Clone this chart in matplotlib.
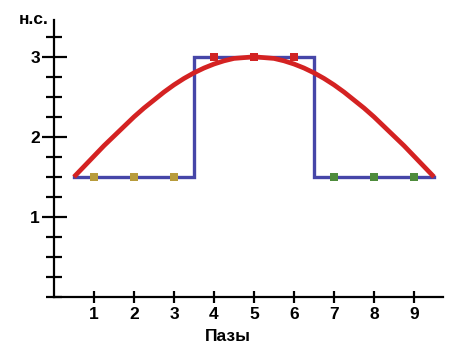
import matplotlib
matplotlib.use('Agg')
import matplotlib.pyplot as plt
from matplotlib.ticker import MultipleLocator

plt.rcParams['font.family'] = ['Liberation Sans', 'DejaVu Sans']
plt.rcParams['font.weight'] = 'bold'

# Data
slots = [1, 2, 3, 4, 5, 6, 7, 8, 9]
slot_y = [1.5, 1.5, 1.5, 3, 3, 3, 1.5, 1.5, 1.5]
slot_colors = ['#b89c3c'] * 3 + ['#d02424'] * 3 + ['#4e8c3c'] * 3

step_x = [0.5, 3.5, 3.5, 6.5, 6.5, 9.5]
step_y = [1.5, 1.5, 3.0, 3.0, 1.5, 1.5]

curve_x = [0.5, 0.75, 1.0, 1.25, 1.5, 1.75, 2.0, 2.25, 2.5, 2.75, 3.0, 3.25,
           3.5, 3.75, 4.0, 4.25, 4.5, 4.75, 5.0, 5.25, 5.5, 5.75, 6.0, 6.25,
           6.5, 6.75, 7.0, 7.25, 7.5, 7.75, 8.0, 8.25, 8.5, 8.75, 9.0, 9.25, 9.5]
curve_y = [1.5, 1.63, 1.76, 1.89, 2.01, 2.13, 2.25, 2.36, 2.46, 2.56, 2.65, 2.73,
           2.80, 2.86, 2.91, 2.95, 2.98, 2.99, 3.0, 2.99, 2.98, 2.95, 2.91, 2.86,
           2.80, 2.73, 2.65, 2.56, 2.46, 2.36, 2.25, 2.13, 2.01, 1.89, 1.76, 1.63, 1.5]

fig = plt.figure(figsize=(4.75, 3.6), dpi=100)
ax = fig.add_axes([54 / 475, 63 / 360, 389 / 475, 277 / 360])

ax.plot(step_x, step_y, color='#4646a8', lw=2.4, zorder=2, solid_joinstyle='miter')
ax.scatter(slots, slot_y, marker='s', s=38, c=slot_colors, zorder=3, linewidths=0)
ax.plot(curve_x, curve_y, color='#d42222', lw=3.4, zorder=4,
        solid_capstyle='butt', solid_joinstyle='round')

ax.set_xlim(0, 9.725)
ax.set_ylim(0, 3.46)

for s in ['top', 'right']:
    ax.spines[s].set_visible(False)
for s in ['left', 'bottom']:
    ax.spines[s].set_linewidth(1.6)

ax.set_xticks(slots)
ax.set_yticks([1, 2, 3])
ax.yaxis.set_minor_locator(MultipleLocator(0.25))
ax.tick_params(axis='x', direction='inout', length=9, width=1.6, pad=3, labelsize=12.5)
ax.tick_params(axis='y', which='major', direction='inout', length=18, width=1.6, pad=1, labelsize=12.5)
ax.tick_params(axis='y', which='minor', direction='inout', length=12, width=1.6)

ax.text(-0.52, 3.46, 'н.с.', ha='center', va='center', fontsize=12.5, fontweight='bold', clip_on=False)
ax.text((227.5 - 54) / 389, -0.116, 'Пазы', transform=ax.transAxes, ha='center', va='top',
        fontsize=12.5, fontweight='bold')

fig.savefig('out.png', dpi=100)
